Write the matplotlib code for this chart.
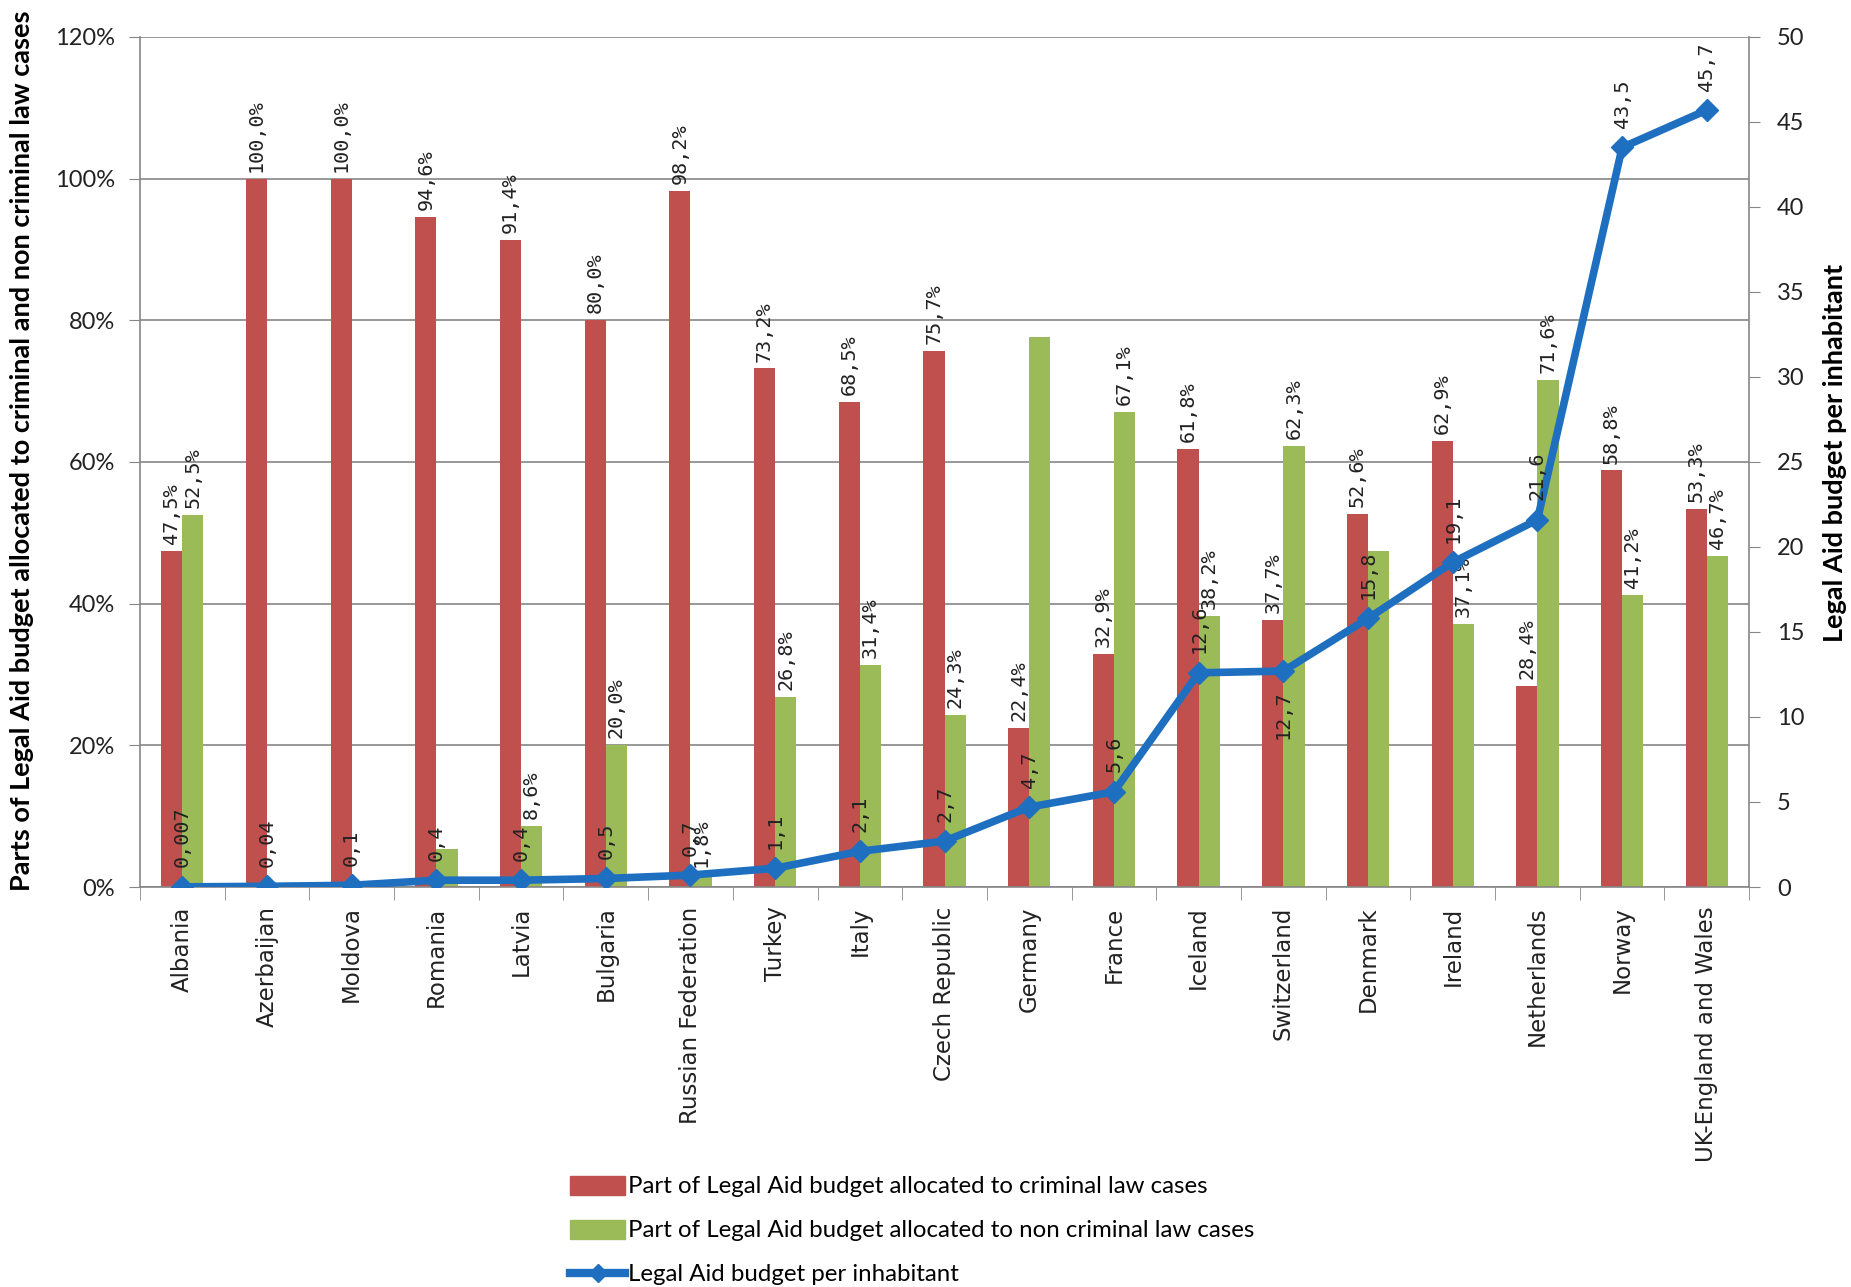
import matplotlib.pyplot as plt
import numpy as np
from matplotlib.lines import Line2D
from matplotlib.patches import Patch
from matplotlib.ticker import FuncFormatter, MultipleLocator

countries = ["Albania", "Azerbaijan", "Moldova", "Romania", "Latvia", "Bulgaria",
             "Russian Federation", "Turkey", "Italy", "Czech Republic", "Germany",
             "France", "Iceland", "Switzerland", "Denmark", "Ireland", "Netherlands",
             "Norway", "UK-England and Wales"]

# share of the legal aid budget, %
criminal = [47.5, 100.0, 100.0, 94.6, 91.4, 80.0, 98.2, 73.2, 68.5, 75.7, 22.4,
            32.9, 61.8, 37.7, 52.6, 62.9, 28.4, 58.8, 53.3]
non_criminal = [52.5, 0.0, 0.0, 5.4, 8.6, 20.0, 1.8, 26.8, 31.4, 24.3, 77.6,
                67.1, 38.2, 62.3, 47.4, 37.1, 71.6, 41.2, 46.7]
non_criminal_shown = [True, False, False, False, True, True, True, True, True, True,
                      False, True, True, True, False, True, True, True, True]

# legal aid budget per inhabitant, euros
per_inhabitant = [0.007, 0.04, 0.1, 0.4, 0.4, 0.5, 0.7, 1.1, 2.1, 2.7, 4.7, 5.6,
                  12.6, 12.7, 15.8, 19.1, 21.6, 43.5, 45.7]
label_below = ["Switzerland"]

RED = "#C0504D"
GREEN = "#9BBB59"
BLUE = "#1F6FC0"
GRID = "#868686"
TICK_FONT = ["Lato", "DejaVu Sans"]
VAL_FONT = "DejaVu Sans Mono"
VAL_SIZE = 14.5


def pct(v):
    return f"{v:.1f}%".replace(".", ",")


fig = plt.figure(figsize=(18.51, 12.87), dpi=100)
ax = fig.add_axes([0.0756, 0.3108, 0.8694, 0.6605])

n = len(countries)
x = np.arange(n)
w = 0.25
ax.bar(x - w / 2, criminal, w, color=RED, zorder=2)
ax.bar(x + w / 2, non_criminal, w, color=GREEN, zorder=2)

for i in range(n):
    ax.annotate(pct(criminal[i]), (x[i] - w / 2, criminal[i]), xytext=(0, 5),
                textcoords="offset points", rotation=90, ha="center", va="bottom",
                fontsize=VAL_SIZE, family=VAL_FONT, color="#222222", zorder=4)
    if non_criminal_shown[i]:
        ax.annotate(pct(non_criminal[i]), (x[i] + w / 2, non_criminal[i]), xytext=(0, 5),
                    textcoords="offset points", rotation=90, ha="center", va="bottom",
                    fontsize=VAL_SIZE, family=VAL_FONT, color="#222222", zorder=4)

ax.set_xlim(-0.5, n - 0.5)
ax.set_ylim(0, 120)
ax.yaxis.set_major_locator(MultipleLocator(20))
ax.yaxis.set_major_formatter(FuncFormatter(lambda v, p: f"{v:.0f}%"))
ax.grid(axis="y", color=GRID, lw=1.2, zorder=0)
ax.set_axisbelow(True)

ax.set_xticks(x)
ax.set_xticklabels(countries, rotation=90, fontsize=16.5, family="DejaVu Sans", color="#222222")
ax.set_xticks(np.arange(-0.5, n, 1), minor=True)
ax.tick_params(axis="x", which="major", length=0, pad=14)
ax.tick_params(axis="x", which="minor", length=9, direction="out", color=GRID)
ax.tick_params(axis="y", length=8, direction="out", color=GRID, pad=10, labelsize=17)
for lab in ax.get_yticklabels():
    lab.set_family(TICK_FONT)
    lab.set_color("#222222")

for side in ["left", "bottom", "right"]:
    ax.spines[side].set_color(GRID)
    ax.spines[side].set_linewidth(1.2)
ax.spines["top"].set_visible(False)

ax2 = ax.twinx()
ax2.plot(x, per_inhabitant, color=BLUE, lw=5.5, marker="D", ms=11, mec=BLUE, zorder=5)
ax2.set_ylim(0, 50)
ax2.yaxis.set_major_locator(MultipleLocator(5))
ax2.tick_params(axis="y", length=8, direction="out", color=GRID, pad=12, labelsize=17)
for lab in ax2.get_yticklabels():
    lab.set_family(TICK_FONT)
    lab.set_color("#222222")
for side in ["left", "bottom", "right", "top"]:
    ax2.spines[side].set_visible(False)

for i, c in enumerate(countries):
    txt = str(per_inhabitant[i]).replace(".", ",")
    if c in label_below:
        ax2.annotate(txt, (x[i], per_inhabitant[i]), xytext=(0, -14),
                     textcoords="offset points", rotation=90, ha="center", va="top",
                     fontsize=VAL_SIZE, family=VAL_FONT, color="#222222", zorder=6)
    else:
        ax2.annotate(txt, (x[i], per_inhabitant[i]), xytext=(0, 14),
                     textcoords="offset points", rotation=90, ha="center", va="bottom",
                     fontsize=VAL_SIZE, family=VAL_FONT, color="#222222", zorder=6)

fig.text(0.012, 0.65, "Parts of Legal Aid budget allocated to criminal and non criminal law cases",
         rotation=90, ha="center", va="center", fontsize=19.5, fontweight="bold", family=TICK_FONT)
fig.text(0.9915, 0.648, "Legal Aid budget per inhabitant", rotation=90, ha="center",
         va="center", fontsize=19.5, fontweight="bold", family=TICK_FONT)

handles = [
    Patch(color=RED),
    Patch(color=GREEN),
    Line2D([], [], color=BLUE, lw=6, marker="D", ms=9),
]
labels = [
    "Part of Legal Aid budget allocated to criminal law cases",
    "Part of Legal Aid budget allocated to non criminal law cases",
    "Legal Aid budget per inhabitant",
]
fig.legend(handles, labels, loc="upper left", bbox_to_anchor=(0.308, 0.0866),
           frameon=False, borderpad=0, borderaxespad=0, handlelength=2.3,
           handleheight=0.85, handletextpad=0.1, labelspacing=0.92,
           prop={"family": TICK_FONT, "size": 17.3})

fig.savefig("out.png", dpi=100, facecolor="white")
